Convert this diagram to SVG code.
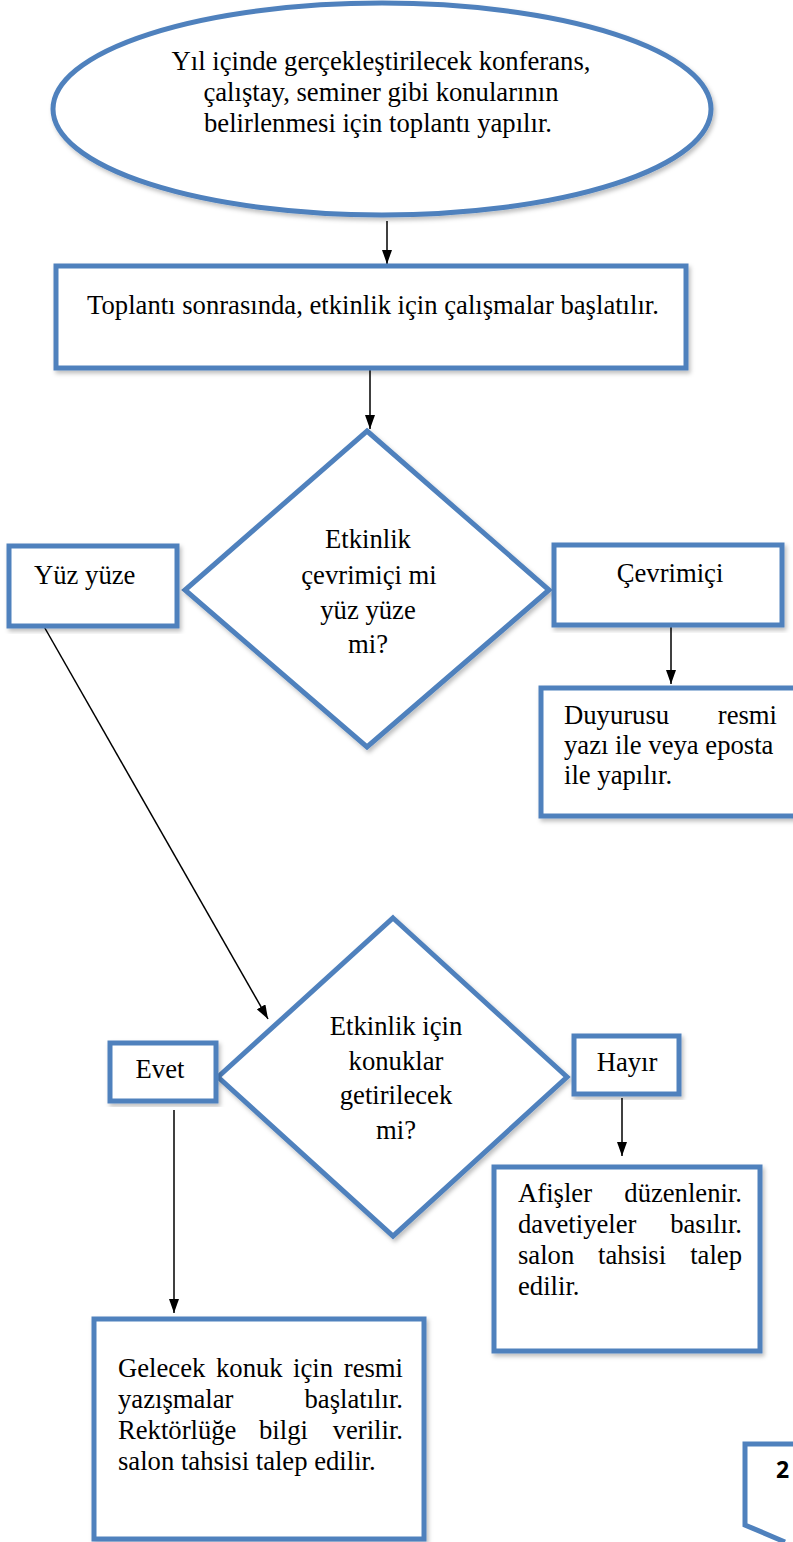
<svg xmlns="http://www.w3.org/2000/svg" width="793" height="1542" viewBox="0 0 793 1542">
<defs>
<filter id="sh" x="-10%" y="-10%" width="120%" height="120%"><feDropShadow dx="2" dy="3" stdDeviation="2" flood-color="#000" flood-opacity="0.25"/></filter>
<marker id="ah" viewBox="0 0 14 10" refX="14" refY="5" markerWidth="14" markerHeight="10" markerUnits="userSpaceOnUse" orient="auto"><path d="M0,0 L14,5 L0,10 z" fill="#000"/></marker>
</defs>
<style>
.n{fill:#fff;stroke:#4F81BD;stroke-width:5;filter:url(#sh)}
.l{stroke:#000;stroke-width:1.5;fill:none;marker-end:url(#ah)}
text{font-family:'Liberation Serif','Times New Roman',serif;font-size:26.67px;fill:#000}
.m{text-anchor:middle}
.e{text-anchor:end}
</style>
<g id="connectors">
<line class="l" x1="387" y1="221" x2="387" y2="264"/>
<line class="l" x1="370" y1="370" x2="370" y2="429"/>
<line class="l" x1="671" y1="625" x2="671" y2="684"/>
<line class="l" x1="42" y1="623" x2="268" y2="1019"/>
<line class="l" x1="174" y1="1110" x2="174" y2="1313"/>
<line class="l" x1="622" y1="1098" x2="622" y2="1156"/>
</g>
<g id="start">
<ellipse class="n" cx="382" cy="109" rx="329" ry="106"/>
<text class="m" x="381" y="70">Yıl içinde gerçekleştirilecek konferans,</text>
<text class="m" x="381" y="101">çalıştay, seminer gibi konularının</text>
<text class="m" x="378" y="132">belirlenmesi için toplantı yapılır.</text>
</g>
<g id="toplanti">
<rect class="n" x="56" y="266" width="630" height="102"/>
<text class="m" x="373" y="314">Toplantı sonrasında, etkinlik için çalışmalar başlatılır.</text>
</g>
<g id="karar1">
<polygon class="n" points="367,431 549,590 367,747 185,590"/>
<text class="m" x="368" y="548">Etkinlik</text>
<text class="m" x="369" y="584">çevrimiçi mi</text>
<text class="m" x="368" y="619">yüz yüze</text>
<text class="m" x="368" y="653">mi?</text>
</g>
<g id="yuzyuze">
<rect class="n" x="9" y="546" width="168" height="80"/>
<text x="34" y="584">Yüz yüze</text>
</g>
<g id="cevrimici">
<rect class="n" x="554" y="545" width="228" height="80"/>
<text class="m" x="670" y="582">Çevrimiçi</text>
</g>
<g id="duyuru">
<rect class="n" x="541" y="688" width="260" height="128"/>
<text x="564" y="724">Duyurusu</text>
<text class="e" x="777" y="724">resmi</text>
<text x="564" y="754">yazı ile veya eposta</text>
<text x="564" y="784">ile yapılır.</text>
</g>
<g id="karar2">
<polygon class="n" points="393,918 567,1077 393,1236 218,1077"/>
<text class="m" x="396" y="1035">Etkinlik için</text>
<text class="m" x="396" y="1070">konuklar</text>
<text class="m" x="396" y="1104">getirilecek</text>
<text class="m" x="396" y="1139">mi?</text>
</g>
<g id="evet">
<rect class="n" x="110" y="1043" width="106" height="58"/>
<text class="m" x="160" y="1078">Evet</text>
</g>
<g id="hayir">
<rect class="n" x="574" y="1036" width="105" height="58"/>
<text class="m" x="627" y="1071">Hayır</text>
</g>
<g id="afisler">
<rect class="n" x="494" y="1167" width="266" height="184"/>
<text x="518" y="1202">Afişler</text>
<text class="e" x="742" y="1202">düzenlenir.</text>
<text x="518" y="1233">davetiyeler</text>
<text class="e" x="742" y="1233">basılır.</text>
<text x="518" y="1264">salon</text>
<text x="598" y="1264">tahsisi</text>
<text class="e" x="742" y="1264">talep</text>
<text x="518" y="1295">edilir.</text>
</g>
<g id="gelecek">
<rect class="n" x="94" y="1319" width="330" height="220"/>
<text x="118" y="1377">Gelecek</text>
<text x="216" y="1377">konuk</text>
<text x="293" y="1377">için</text>
<text class="e" x="403" y="1377">resmi</text>
<text x="118" y="1408">yazışmalar</text>
<text class="e" x="403" y="1408">başlatılır.</text>
<text x="118" y="1439">Rektörlüğe</text>
<text x="259" y="1439">bilgi</text>
<text class="e" x="403" y="1439">verilir.</text>
<text x="118" y="1470">salon tahsisi talep edilir.</text>
</g>
<g id="sayfa">
<path d="M797,1444 L745,1444 L745,1525 L785,1542" fill="#fff" stroke="#4F81BD" stroke-width="5"/>
<text x="776" y="1478" style="font-family:'Open Sans','Liberation Sans',sans-serif;font-weight:bold;font-size:23px">2</text>
</g>
</svg>
